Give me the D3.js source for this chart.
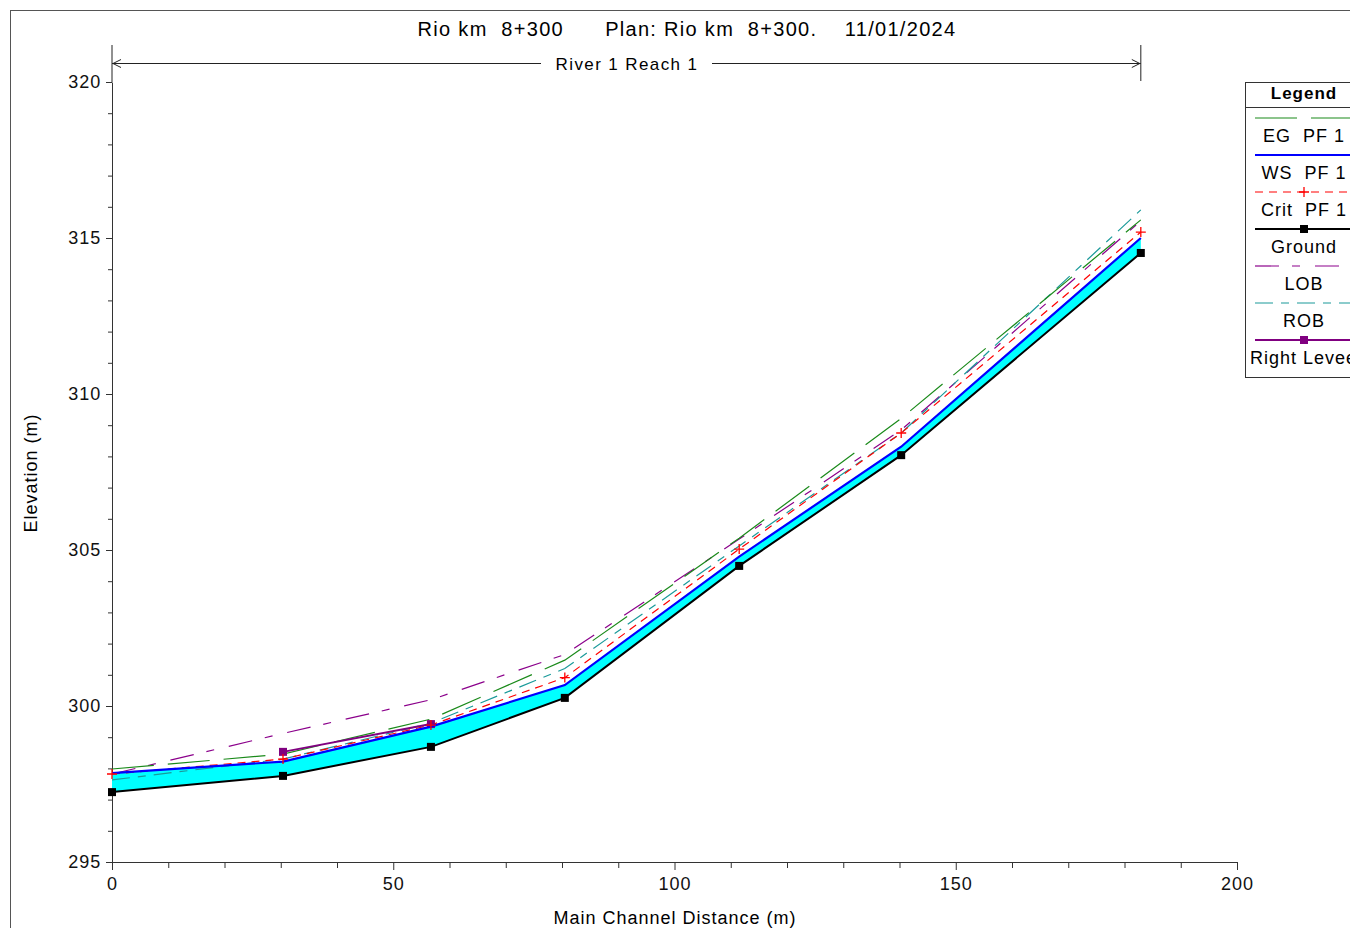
<!DOCTYPE html>
<html><head><meta charset="utf-8">
<script src="https://cdn.jsdelivr.net/npm/d3@7/dist/d3.min.js"></script>
<style>
body{margin:0;background:#fff;}
svg{display:block;font-family:"Liberation Sans",Arial,sans-serif;}
</style></head><body>
<svg id="c" width="1350" height="928"></svg>
<script>
const titleText = "Rio km  8+300      Plan: Rio km  8+300.    11/01/2024";
const reachLabel = "River 1 Reach 1";
const xTicks = [0, 50, 100, 150, 200];
const yTicks = [295, 300, 305, 310, 315, 320];
const dist = [0, 30.4, 56.7, 80.5, 111.5, 140.3, 182.9];
const ground = [297.24, 297.76, 298.69, 300.26, 304.49, 308.04, 314.52];
const ws = [297.85, 298.22, 299.34, 300.67, 304.79, 308.31, 315.0];
const crit = [297.82, 298.30, 299.39, 300.91, 305.03, 308.75, 315.19];
const eg = [297.98, 298.46, 299.58, 301.47, 305.38, 309.22, 315.58];
const lob = [297.82, 299.12, 300.20, 301.65, 305.35, 308.85, 315.55];
const rob = [297.63, 298.30, 299.45, 301.20, 305.13, 308.75, 315.90];
const leveeDist = [30.4, 56.7];
const levee = [298.53, 299.42];
const legendLabels = ["EG  PF 1", "WS  PF 1", "Crit  PF 1", "Ground", "LOB", "ROB", "Right Levee"];

const svg = d3.select("#c");
const x = d3.scaleLinear().domain([0, 200]).range([112, 1237]);
const y = d3.scaleLinear().domain([295, 320]).range([862, 82]);

// frame
svg.append("rect").attr("x", 10.5).attr("y", 10.5).attr("width", 1400).attr("height", 1000)
  .attr("fill", "none").attr("stroke", "#555").attr("stroke-width", 1);

// title
svg.append("text").attr("x", 687).attr("y", 36).attr("text-anchor", "middle")
  .attr("font-size", 20).attr("letter-spacing", 1.3)
  .style("white-space", "pre").attr("xml:space", "preserve").text(titleText);

// reach annotation
const xs = x(dist[0]), xe = x(dist[dist.length - 1]);
svg.append("line").attr("x1", xs).attr("x2", xs).attr("y1", 45).attr("y2", 82).attr("stroke", "#222");
svg.append("line").attr("x1", xe).attr("x2", xe).attr("y1", 45).attr("y2", 81).attr("stroke", "#222");
svg.append("line").attr("x1", xs).attr("x2", 541).attr("y1", 63.5).attr("y2", 63.5).attr("stroke", "#222");
svg.append("line").attr("x1", 712).attr("x2", xe).attr("y1", 63.5).attr("y2", 63.5).attr("stroke", "#222");
svg.append("path").attr("d", `M${xs + 9},59.5 L${xs + 1},63.5 L${xs + 9},67.5`).attr("fill", "none").attr("stroke", "#222");
svg.append("path").attr("d", `M${xe - 9},59.5 L${xe - 1},63.5 L${xe - 9},67.5`).attr("fill", "none").attr("stroke", "#222");
svg.append("text").attr("x", 627).attr("y", 70).attr("text-anchor", "middle").attr("font-size", 17)
  .attr("letter-spacing", 1.4).text(reachLabel);

// axes
const xAxis = svg.append("g").attr("transform", `translate(0,${y(295)})`)
  .call(d3.axisBottom(x).tickValues(xTicks).tickSize(8).tickSizeOuter(0).tickFormat(d3.format("d")));
const xMinor = svg.append("g").attr("transform", `translate(0,${y(295)})`)
  .call(d3.axisBottom(x).tickValues(d3.range(0, 201, 10).filter(v => v % 50 !== 0)).tickSize(6).tickSizeOuter(0).tickFormat(""));
xMinor.select(".domain").remove();
const yAxis = svg.append("g").attr("transform", `translate(${x(0)},0)`)
  .call(d3.axisLeft(y).tickValues(yTicks).tickSize(6).tickSizeOuter(0).tickFormat(d3.format("d")));
const yMinor = svg.append("g").attr("transform", `translate(${x(0)},0)`)
  .call(d3.axisLeft(y).tickValues(d3.range(295, 321, 1).filter(v => v % 5 !== 0)).tickSize(4).tickSizeOuter(0).tickFormat(""));
yMinor.select(".domain").remove();
[xAxis, yAxis, xMinor, yMinor].forEach(g => {
  g.selectAll("path,line").attr("stroke", "#333");
  g.selectAll("text").attr("font-size", 18).attr("fill", "#111").attr("letter-spacing", 1)
    .attr("font-family", "'Liberation Sans',Arial,sans-serif");
});
xAxis.selectAll("text").attr("dy", "0.95em");
yAxis.selectAll("text").attr("dx", "-0.1em");

svg.append("text").attr("x", 675).attr("y", 924).attr("text-anchor", "middle").attr("font-size", 18)
  .attr("letter-spacing", 1).text("Main Channel Distance (m)");
svg.append("text").attr("transform", "translate(37,473) rotate(-90)").attr("text-anchor", "middle").attr("font-size", 18)
  .attr("letter-spacing", 1).text("Elevation (m)");

// fill between ground and ws
const idx = d3.range(dist.length);
svg.append("path").datum(idx)
  .attr("d", d3.area().x(i => x(dist[i])).y0(i => y(ground[i])).y1(i => y(ws[i])))
  .attr("fill", "#00ffff").attr("stroke", "none");

const line = (arr) => d3.line().x(i => x(dist[i])).y(i => y(arr[i]));
const styles = {
  eg: {c: "#1a8a1a", w: 1.2, d: "42,14"},
  ws: {c: "#0000ff", w: 2.2, d: null},
  crit: {c: "#ff0000", w: 1.2, d: "8,6"},
  ground: {c: "#000", w: 2, d: null},
  lob: {c: "#8b008b", w: 1.2, d: "24,13,8,15"},
  rob: {c: "#1a9a9a", w: 1.2, d: "18,8,8,8"},
  levee: {c: "#800080", w: 2, d: null}
};
function drawLine(arr, s) {
  svg.append("path").datum(idx).attr("d", line(arr)).attr("fill", "none")
    .attr("stroke", s.c).attr("stroke-width", s.w).attr("stroke-dasharray", s.d);
}
drawLine(lob, styles.lob);
drawLine(rob, styles.rob);
drawLine(eg, styles.eg);
drawLine(crit, styles.crit);
// levee
svg.append("path").datum(d3.range(leveeDist.length))
  .attr("d", d3.line().x(i => x(leveeDist[i])).y(i => y(levee[i])))
  .attr("fill", "none").attr("stroke", styles.levee.c).attr("stroke-width", styles.levee.w);
svg.selectAll(".lev").data(d3.range(leveeDist.length)).enter().append("rect")
  .attr("x", i => x(leveeDist[i]) - 4).attr("y", i => y(levee[i]) - 4).attr("width", 8).attr("height", 8).attr("fill", "#800080");
drawLine(ws, styles.ws);
drawLine(ground, styles.ground);
svg.selectAll(".gm").data(idx).enter().append("rect")
  .attr("x", i => x(dist[i]) - 4).attr("y", i => y(ground[i]) - 4).attr("width", 8).attr("height", 8).attr("fill", "#000");
// crit markers
svg.selectAll(".cm").data(idx).enter().append("path")
  .attr("d", i => `M${x(dist[i]) - 5},${y(crit[i])} h10 M${x(dist[i])},${y(crit[i]) - 5} v10`)
  .attr("stroke", "#ff0000").attr("stroke-width", 1.3);

// legend
const L = svg.append("g");
L.append("rect").attr("x", 1245.5).attr("y", 82.5).attr("width", 130).attr("height", 295).attr("fill", "#fff").attr("stroke", "#333");
L.append("line").attr("x1", 1245).attr("x2", 1350).attr("y1", 107.5).attr("y2", 107.5).attr("stroke", "#333");
L.append("text").attr("x", 1304).attr("y", 99).attr("text-anchor", "middle").attr("font-size", 17)
  .attr("font-weight", "bold").attr("letter-spacing", 1).text("Legend");
const legendStyles = [styles.eg, styles.ws, styles.crit, styles.ground, styles.lob, styles.rob, styles.levee];
const markers = [null, null, "plus", "sq", null, null, "sq"];
legendLabels.forEach((lab, i) => {
  const ly = 118 + i * 37;
  const s = legendStyles[i];
  L.append("line").attr("x1", 1255).attr("x2", 1350).attr("y1", ly).attr("y2", ly)
    .attr("stroke", s.c).attr("stroke-width", Math.min(s.w, 2)).attr("stroke-dasharray", s.d);
  if (markers[i] === "sq") L.append("rect").attr("x", 1300).attr("y", ly - 4).attr("width", 8).attr("height", 8).attr("fill", s.c);
  if (markers[i] === "plus") L.append("path").attr("d", `M1299,${ly} h10 M1304,${ly - 5} v10`).attr("stroke", s.c).attr("stroke-width", 1.3);
  const t = L.append("text").attr("y", ly + 24).attr("font-size", 18).attr("letter-spacing", 1)
    .style("white-space", "pre").attr("xml:space", "preserve").text(lab);
  if (i === legendLabels.length - 1) t.attr("x", 1250).attr("text-anchor", "start");
  else t.attr("x", 1304).attr("text-anchor", "middle");
});
</script>
</body></html>
